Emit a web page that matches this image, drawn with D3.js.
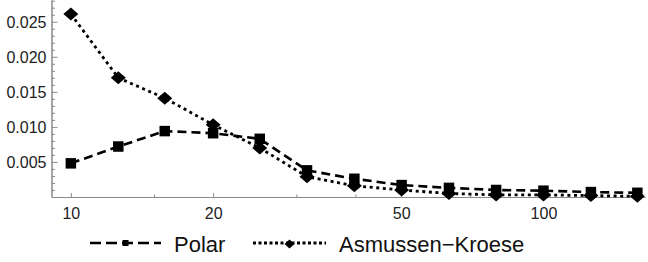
<!DOCTYPE html>
<html>
<head>
<meta charset="utf-8">
<script src="https://cdn.jsdelivr.net/npm/d3@7"></script>
<style>
  body { margin: 0; background: #fff; }
  svg { display: block; font-family: "Liberation Sans", Arial, sans-serif; }
  .axis path, .axis line { stroke: #8a8a8a; stroke-width: 1; }
  .axis text { fill: #222; font-size: 16px; }
  .polar-line { fill: none; stroke: #000; stroke-width: 2.6; stroke-dasharray: 9,5; }
  .ak-line { fill: none; stroke: #000; stroke-width: 2.8; stroke-dasharray: 3,3.6; }
  .legend text { font-size: 22px; fill: #111; }
</style>
</head>
<body>
<div id="chart"></div>
<script>

// sample sizes (log axis)
var sizes = [10, 12.6, 15.8, 20, 25.1, 31.6, 39.8, 50.1, 63.1, 79.4, 100, 126, 158];

// series values
var polar = [0.0048, 0.0072, 0.0094, 0.0091, 0.0083, 0.0038, 0.0026, 0.0017, 0.0013, 0.0010, 0.0009, 0.0007, 0.0006];
var asmussenKroese = [0.0261, 0.0170, 0.0141, 0.0103, 0.0070, 0.0029, 0.0016, 0.0010, 0.0005, 0.0003, 0.0003, 0.0002, 0.0001];

// ticks
var xMajorTicks = [10, 20, 50, 100];
var xMinorTicks = [15, 30, 40, 70, 150];
var yMajorTicks = [0.005, 0.010, 0.015, 0.020, 0.025];
var yMinorTicks = [0.001, 0.002, 0.003, 0.004, 0.006, 0.007, 0.008, 0.009, 0.011, 0.012, 0.013, 0.014,
                   0.016, 0.017, 0.018, 0.019, 0.021, 0.022, 0.023, 0.024, 0.026, 0.027, 0.028];

var seriesNames = ["Polar", "Asmussen\u2212Kroese"];

var width = 648, height = 262;

var svg = d3.select("#chart").append("svg")
    .attr("width", width)
    .attr("height", height);

// Scales
var x = d3.scaleLog()
    .domain([9.1, 164])
    .range([51.5, 645]);
var y = d3.scaleLinear()
    .domain([0, 0.0281])
    .range([197, 0]);

// Axes - ticks point into the plot like Mathematica
var xAxis = d3.axisBottom(x).tickValues(xMajorTicks).tickSize(-4).tickSizeOuter(0)
    .tickFormat(d3.format("d"));
var xMinor = d3.axisBottom(x).tickValues(xMinorTicks).tickSize(-2.5).tickSizeOuter(0)
    .tickFormat("");
var yAxis = d3.axisLeft(y).tickValues(yMajorTicks).tickSize(-6).tickSizeOuter(0)
    .tickFormat(d3.format(".3f"));
var yMinor = d3.axisLeft(y).tickValues(yMinorTicks).tickSize(-3.5).tickSizeOuter(0)
    .tickFormat("");

svg.append("g").attr("class", "axis").attr("transform", "translate(0,197)").call(xMinor);
var gx = svg.append("g").attr("class", "axis").attr("transform", "translate(0,197)").call(xAxis);
gx.selectAll("text").attr("dy", 0).attr("y", 22);

svg.append("g").attr("class", "axis").attr("transform", "translate(51.5,0)").call(yMinor);
var gy = svg.append("g").attr("class", "axis").attr("transform", "translate(51.5,0)").call(yAxis);
gy.selectAll("text").attr("x", -5).attr("dy", "0.36em");

// Data rows
var polarData = sizes.map(function(s, i) { return {x: s, y: polar[i]}; });
var akData = sizes.map(function(s, i) { return {x: s, y: asmussenKroese[i]}; });

var line = d3.line()
    .x(function(d) { return x(d.x); })
    .y(function(d) { return y(d.y); });

// marker shapes
function squarePath(s) {
    return "M" + (-s/2) + "," + (-s/2) + "h" + s + "v" + s + "h" + (-s) + "Z";
}
function diamondPath(w, h) {
    return "M0," + (-h/2) + "L" + (w/2) + ",0L0," + (h/2) + "L" + (-w/2) + ",0Z";
}

// Polar
svg.append("path").datum(polarData).attr("class", "polar-line").attr("d", line);
svg.selectAll(".sq").data(polarData).enter().append("path")
    .attr("class", "sq")
    .attr("d", squarePath(10.5))
    .attr("transform", function(d) { return "translate(" + x(d.x) + "," + y(d.y) + ")"; });

// Asmussen-Kroese
svg.append("path").datum(akData).attr("class", "ak-line").attr("d", line);
svg.selectAll(".dm").data(akData).enter().append("path")
    .attr("class", "dm")
    .attr("d", diamondPath(15, 13))
    .attr("transform", function(d) { return "translate(" + x(d.x) + "," + y(d.y) + ")"; });

// Legend
var legend = svg.append("g").attr("class", "legend");
var ly = 243;

legend.append("line").attr("class", "polar-line")
    .attr("x1", 90).attr("x2", 161).attr("y1", ly).attr("y2", ly)
    .style("stroke-dasharray", "11,5");
legend.append("path").attr("d", squarePath(6))
    .attr("transform", "translate(125.5," + ly + ")");
legend.append("text").attr("x", 174).attr("y", 252).text(seriesNames[0]);

legend.append("line").attr("class", "ak-line")
    .attr("x1", 253).attr("x2", 326).attr("y1", ly).attr("y2", ly)
    .style("stroke-dasharray", "3,2.5");
legend.append("path").attr("d", diamondPath(10, 9))
    .attr("transform", "translate(289.5," + (ly + 1) + ")");
legend.append("text").attr("x", 339).attr("y", 252).text(seriesNames[1]);

</script>
</body>
</html>
